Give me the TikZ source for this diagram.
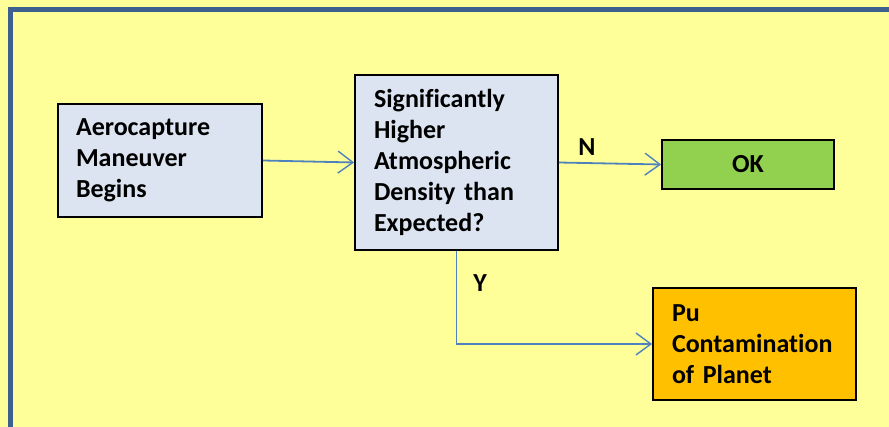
\documentclass[tikz,border=0pt]{standalone}
\usepackage{fontspec}
\setmainfont{Carlito}[Ligatures=NoCommon]
\usepackage{tikz}
\usetikzlibrary{arrows.meta,positioning}
\definecolor{pagebg}{RGB}{255,255,153}
\definecolor{framecol}{RGB}{61,96,143}
\definecolor{boxblue}{RGB}{219,228,240}
\definecolor{okgreen}{RGB}{146,208,80}
\definecolor{puorange}{RGB}{255,192,0}
\definecolor{flowline}{RGB}{79,129,189}
\tikzset{
  flowbox/.style={draw=black, line width=1.8pt, inner ysep=4pt,
    font=\fontsize{26}{31}\selectfont\bfseries, align=left},
  flowarrow/.style={draw=flowline, line width=1.8pt,
    -{Straight Barb[length=15pt,width=22pt,line width=1.4pt]}},
  flowlabel/.style={font=\fontsize{26}{31}\selectfont\bfseries}
}
\begin{document}
\begin{tikzpicture}[x=1pt, y=-1pt]
  \useasboundingbox (0,0) rectangle (889,427);
  \fill[pagebg] (0,0) rectangle (889,427);
  \draw[framecol, line width=5pt] (10.5,440) -- (10.5,10) -- (900,10);
  % boxes
  \node[flowbox, fill=boxblue, inner xsep=18pt, text width=168pt, minimum height=113pt] (begins) at (160,160.5)
    {Aerocapture\\Maneuver\\Begins};
  \node[flowbox, fill=boxblue, inner xsep=19pt, text width=165pt, minimum height=175pt] (density) at (456.5,162.5)
    {Significantly\\Higher\\Atmospheric\\Density than\\Expected?};
  \node[flowbox, fill=okgreen, minimum width=172pt, minimum height=49pt, align=center] (ok) at (748,164.5) {OK};
  \node[flowbox, fill=puorange, inner xsep=19pt, text width=165pt, minimum height=112pt] (contam) at (754.5,344)
    {Pu\\Contamination\\of Planet};
  % connectors
  \draw[flowarrow] (begins.east) -- (density.west);
  \draw[flowarrow] (density.east) -- (ok.west);
  \draw[flowarrow] (density.south) |- (contam.west);
  \node[flowlabel] (nlabel) at (587,147) {N};
  \node[flowlabel] (ylabel) at (480,283) {Y};
\end{tikzpicture}
\end{document}
